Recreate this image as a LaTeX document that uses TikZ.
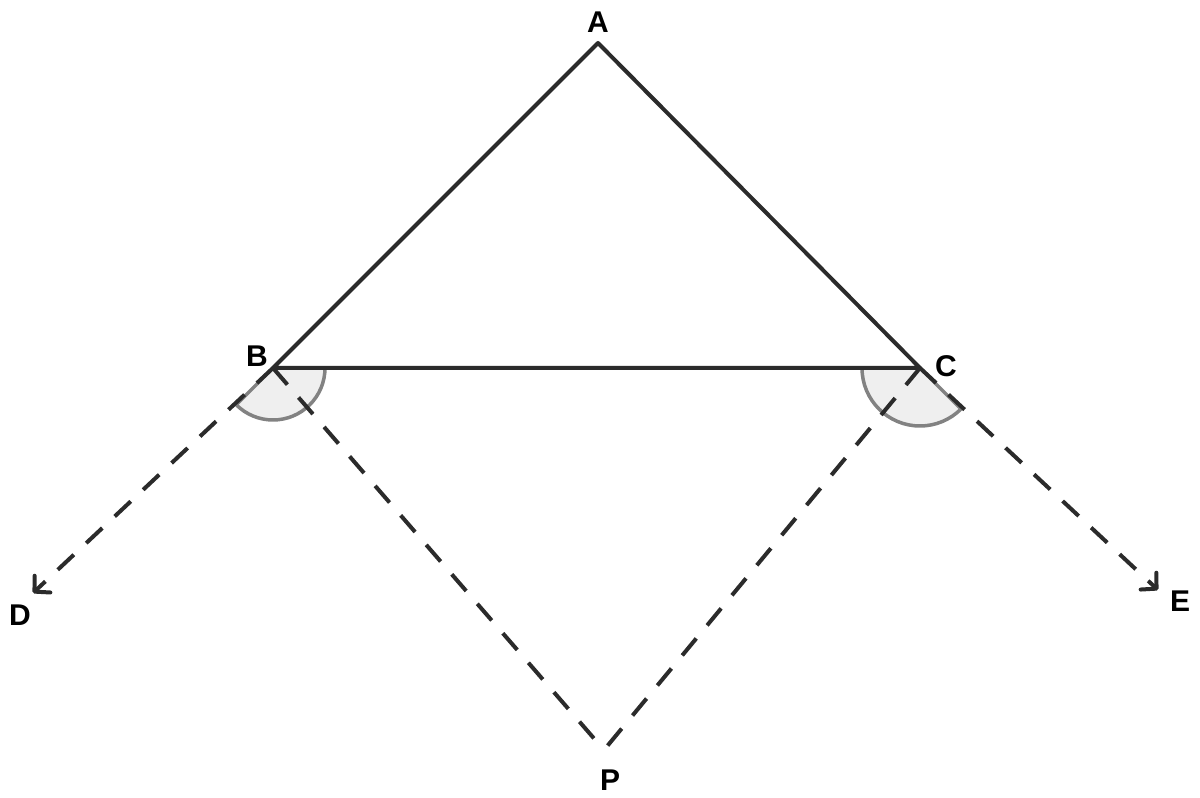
\documentclass[tikz,border=0pt]{standalone}
\usepackage{fontspec}
\setmainfont{Liberation Sans}
\usetikzlibrary{arrows.meta}
\definecolor{ink}{HTML}{2B2B2B}
\definecolor{secfill}{HTML}{EFEFEF}
\definecolor{secedge}{HTML}{828282}
\begin{document}
\begin{tikzpicture}[x=1pt,y=1pt,
  solidline/.style={draw=ink,line width=4pt,line join=round},
  dashline/.style={draw=ink,line width=4pt,dash pattern=on 22pt off 17pt},
  tipline/.style={dashline,-{Straight Barb[length=11pt,width=23pt,round]}},
  sector/.style={fill=secfill,draw=secedge,line width=3.5pt},
  lbl/.style={font=\fontsize{30}{30}\selectfont\bfseries,inner sep=0pt}]
\useasboundingbox (0,0) rectangle (1200,798);
\coordinate (A) at (598,755);
\coordinate (B) at (273,430);
\coordinate (C) at (920,430);
\coordinate (P) at (604,48);
\coordinate (D) at (33,205);
\coordinate (E) at (1158,208);
% angle sectors
\path[sector] (B) -- ++(0:52) arc[start angle=0,end angle=-135,radius=52pt] -- cycle;
\path[sector] (C) -- ++(180:58) arc[start angle=180,end angle=315,radius=58pt] -- cycle;
% dashed lines
\draw[dashline] (B) -- (P);
\draw[dashline] (C) -- (P);
\draw[tipline] (B) -- (D);
\draw[tipline] (C) -- (E);
% triangle
\draw[solidline] (A) -- (B) -- (C) -- cycle;
% labels
\node[lbl] (lA) at (598,776) {A};
\node[lbl] (lB) at (257,442) {B};
\node[lbl] (lC) at (946,432) {C};
\node[lbl] (lD) at (20,183) {D};
\node[lbl] (lE) at (1180,197) {E};
\node[lbl] (lP) at (610,18) {P};
\end{tikzpicture}
\end{document}
